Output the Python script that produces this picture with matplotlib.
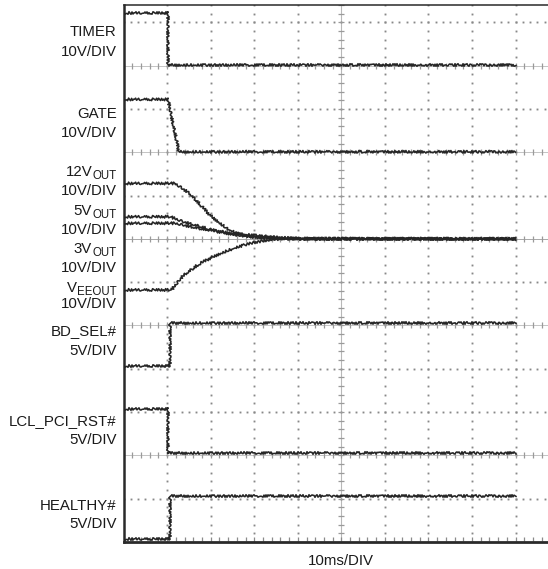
import numpy as np
import matplotlib.pyplot as plt

plt.rcParams['font.family'] = ['Liberation Sans', 'DejaVu Sans']

# scope traces, x in divisions (10ms/DIV), y in divisions from screen centre
timer_t = [0.0, 1.03, 1.03, 9.0]
timer_v = [5.22, 5.22, 4.01, 4.01]

gate_t = [0.0, 1.02, 1.27, 9.0]
gate_v = [3.22, 3.22, 2.01, 2.01]

v12_t = [0.0, 1.18, 1.52, 1.98, 2.37, 2.60, 2.90, 3.59, 9.0]
v12_v = [1.28, 1.28, 1.05, 0.55, 0.24, 0.13, 0.05, 0.01, 0.0]

v5_t = [0.0, 1.07, 1.36, 1.75, 2.14, 2.60, 3.13, 4.05, 9.0]
v5_v = [0.51, 0.51, 0.40, 0.29, 0.17, 0.09, 0.03, 0.0, 0.0]

v3_t = [0.0, 1.18, 1.75, 2.51, 3.36, 4.05, 9.0]
v3_v = [0.36, 0.36, 0.24, 0.13, 0.05, 0.0, 0.0]

vee_t = [0.0, 1.10, 1.37, 1.75, 2.14, 2.52, 2.90, 3.29, 3.66, 9.0]
vee_v = [-1.18, -1.18, -0.84, -0.57, -0.37, -0.22, -0.10, -0.03, 0.0, 0.0]

bdsel_t = [0.0, 1.07, 1.07, 9.0]
bdsel_v = [-2.93, -2.93, -1.94, -1.94]

rst_t = [0.0, 1.03, 1.03, 9.0]
rst_v = [-3.93, -3.93, -4.95, -4.95]

healthy_t = [0.0, 1.07, 1.07, 9.0]
healthy_v = [-6.92, -6.92, -5.94, -5.94]

traces = [(timer_t, timer_v), (gate_t, gate_v), (v12_t, v12_v), (v5_t, v5_v),
          (v3_t, v3_v), (vee_t, vee_v), (bdsel_t, bdsel_v), (rst_t, rst_v),
          (healthy_t, healthy_v)]

# channel labels: (main text, subscript, baseline y in pixels)
labels = [
    ("TIMER", "", 36), ("10V/DIV", "", 56.5),
    ("GATE", "", 118.5), ("10V/DIV", "", 137),
    ("12V", "OUT", 176), ("10V/DIV", "", 195),
    ("5V", "OUT", 215), ("10V/DIV", "", 233.5),
    ("3V", "OUT", 253), ("10V/DIV", "", 272),
    ("V", "EEOUT", 291.5), ("10V/DIV", "", 308.5),
    ("BD_SEL#", "", 335), ("5V/DIV", "", 355),
    ("LCL_PCI_RST#", "", 425), ("5V/DIV", "", 444),
    ("HEALTHY#", "", 510), ("5V/DIV", "", 528.5),
]

dotted_rows = [5, 3, 1, -1, -3, -4, -6]
tick_rows = [4, 2, 0, -2, -5]
dotted_cols = [1, 2, 3, 4, 6, 7, 8, 9]

W, H = 548, 569
fig = plt.figure(figsize=(W / 100, H / 100), dpi=100)
ax = fig.add_axes([123.6 / W, (H - 542) / H, 435.5 / W, 537 / H])
ax.set_xlim(0, 10)
ax.set_ylim(-7, 5.40)

grid_c = '#888888'
ys = np.arange(-7, 5.41, 0.2)
xs = np.arange(0, 10.01, 0.2)
xs_row = np.arange(0, 10.01, 1 / 6)
for xc in dotted_cols:
    ax.plot(np.full_like(ys, xc), ys, ls='none', marker='s', ms=1.35, color=grid_c, mew=0)
for yr in dotted_rows:
    ax.plot(xs_row, np.full_like(xs_row, yr), ls='none', marker='s', ms=1.35, color=grid_c, mew=0)
for yr in tick_rows:
    ax.axhline(yr, color='#c4c4c4' if yr else '#a8a8a8', lw=0.7, zorder=1)
    ax.plot(xs, np.full_like(xs, yr), ls='none', marker='|', ms=4, mew=0.9, color='#9a9a9a')
ax.axvline(5, color='#b8b8b8', lw=0.8, zorder=1)
ax.plot(np.full_like(ys, 5), ys, ls='none', marker='_', ms=4, mew=0.9, color='#9a9a9a')
ax.plot(xs, np.full_like(xs, -6.93), ls='none', marker='|', ms=3, mew=0.9, color='#8a8a8a')

for t, v in traces:
    ln, = ax.plot(t, v, color='#262626', lw=1.15, zorder=5)
    ln.set_sketch_params(scale=1.3, length=2.5, randomness=2)

ax.spines['right'].set_visible(False)
ax.spines['left'].set_linewidth(1.8)
ax.spines['bottom'].set_linewidth(2.0)
ax.spines['top'].set_linewidth(1.1)
for side in ['left', 'bottom', 'top']:
    ax.spines[side].set_color('#2a2a2a')
ax.set_xticks([])
ax.set_yticks([])

renderer = fig.canvas.get_renderer()
x_right = 116.5
for txt, sub, yp in labels:
    xr = x_right
    if sub:
        st = fig.text(xr / W, 1 - (yp + 3.3) / H, sub, ha='right', va='baseline',
                      fontsize=8.3, color='#1a1a1a')
        xr -= st.get_window_extent(renderer).width + 0.2
    fig.text(xr / W, 1 - yp / H, txt, ha='right', va='baseline', fontsize=10.8, color='#1a1a1a')

fig.text(341 / W, 1 - 565 / H, "10ms/DIV", ha='center', va='baseline', fontsize=10.8, color='#1a1a1a')

fig.savefig('out.png', dpi=100)
